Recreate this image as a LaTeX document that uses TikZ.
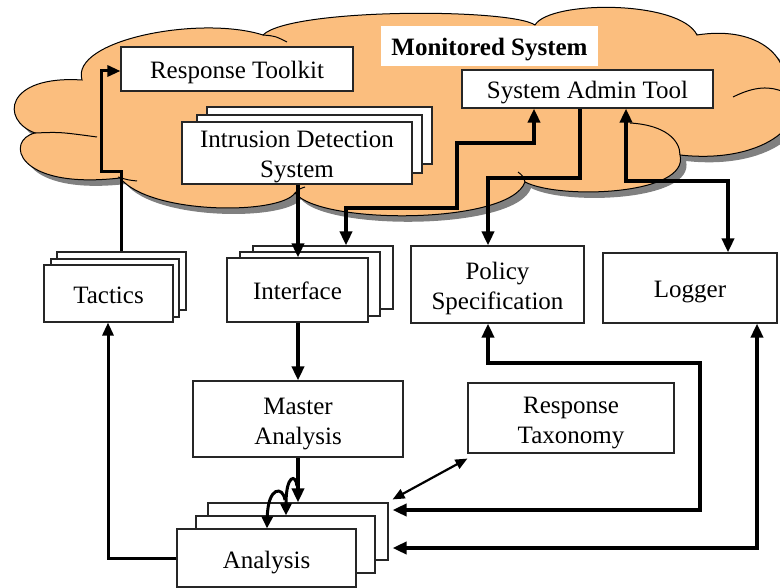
\documentclass[tikz,border=0pt]{standalone}
\usepackage{fontspec}
\setmainfont{Liberation Serif}
\usetikzlibrary{arrows.meta}
\definecolor{cloudfill}{RGB}{251,190,126}
\definecolor{shadowgray}{RGB}{128,128,128}
\newcommand{\topstrut}{\rule{0pt}{26pt}}
\newcommand{\botstrut}{\rule[-6pt]{0pt}{6pt}}
\begin{document}
\begin{tikzpicture}[x=1pt,y=-1pt,
  boxtext/.style={align=center, font=\fontsize{25}{30}\selectfont,
    execute at begin node=\topstrut, execute at end node=\botstrut},
  box/.style={boxtext, draw=black!85, line width=1.1pt, fill=white, inner sep=0pt},
  thickarr/.style={line width=3.6pt, -{Triangle[length=14pt,width=12pt]}},
  thickdbl/.style={line width=3.6pt, {Triangle[length=14pt,width=12pt]}-{Triangle[length=14pt,width=12pt]}},
  medarr/.style={line width=3pt, -{Triangle[length=13pt,width=11pt]}},
  curlarr/.style={line width=3pt, -{Triangle[length=12pt,width=11pt]}},
  thindbl/.style={line width=2.2pt, {Triangle[length=12pt,width=10pt]}-{Triangle[length=12pt,width=10pt]}},
  cloudline/.style={draw=black, line width=1pt}]
\useasboundingbox (0,0) rectangle (780,588);
\def\cloudpath{(82,80) .. controls (70,40) and (200,15) .. (263,35)
  .. controls (290,8) and (510,8) .. (535,25)
  .. controls (550,0) and (680,0) .. (697,35)
  .. controls (760,25) and (795,60) .. (782,95)
  .. controls (815,115) and (770,165) .. (680,155)
  .. controls (690,195) and (560,200) .. (525,182)
  .. controls (510,225) and (320,225) .. (295,193)
  .. controls (280,215) and (150,215) .. (120,178)
  .. controls (15,190) and (5,140) .. (35,133)
  .. controls (0,120) and (5,75) .. (82,80) -- cycle}
\begin{scope}
  \clip (0,0) rectangle (780,588);
  \fill[shadowgray,shift={(6,6)}] \cloudpath;
  \fill[cloudfill] \cloudpath;
  \draw[cloudline] \cloudpath;
  \draw[cloudline] (263,35) .. controls (275,36) .. (287,42);
  \draw[cloudline] (733,97) .. controls (755,86) and (770,86) .. (784,92);
  \draw[cloudline] (630,123) .. controls (665,125) and (680,140) .. (680,155);
  \draw[cloudline] (137,181) .. controls (128,180) .. (118,177);
  \draw[cloudline] (35,133) .. controls (60,132) .. (97,137);
  \draw[cloudline] (525,182) .. controls (523,176) .. (518,172);
  \draw[cloudline] (295,193) .. controls (299,189) .. (305,187);
\end{scope}
% title
\node[boxtext, fill=white, inner sep=0pt, minimum width=217pt, minimum height=40pt,
  font=\fontsize{25}{30}\selectfont\bfseries] (title) at (489.5,46) {Monitored System};
% boxes in cloud
\node[box, minimum width=232pt, minimum height=44pt] (rt) at (237,69) {Response Toolkit};
\node[box, minimum width=251pt, minimum height=38pt] (sat) at (587.5,89) {System Admin Tool};
\node[box, minimum width=225pt, minimum height=57pt] (ids3) at (319.5,135.5) {};
\node[box, minimum width=225pt, minimum height=58pt] (ids2) at (309.5,144) {};
\node[box, minimum width=230pt, minimum height=58pt] (ids) at (297,153) {\topstrut Intrusion Detection\\System\botstrut};
% tactics stack
\node[box, minimum width=129pt, minimum height=58pt] (tac3) at (121.5,281) {};
\node[box, minimum width=128pt, minimum height=58pt] (tac2) at (115,288) {};
\node[box, minimum width=129pt, minimum height=57pt] (tac) at (108.5,293.5) {Tactics};
% interface stack
\node[box, minimum width=140pt, minimum height=63pt] (iface3) at (323,277.5) {};
\node[box, minimum width=140pt, minimum height=64pt] (iface2) at (310,284) {};
\node[box, minimum width=141pt, minimum height=64pt] (iface) at (297.5,290) {Interface};
% others
\node[box, minimum width=173pt, minimum height=77pt] (pol) at (497.5,284.5) {\topstrut Policy\\Specification\botstrut};
\node[box, minimum width=174pt, minimum height=70pt] (log) at (690,288) {Logger};
\node[box, minimum width=210pt, minimum height=76pt] (mas) at (298,419) {\topstrut Master\\Analysis\botstrut};
\node[box, minimum width=206pt, minimum height=70pt] (tax) at (571,418) {\topstrut Response\\Taxonomy\botstrut};
% analysis stack
\node[box, minimum width=180pt, minimum height=57pt] (ana3) at (298,531.5) {};
\node[box, minimum width=179pt, minimum height=57pt] (ana2) at (285.5,544.5) {};
\node[box, minimum width=179pt, minimum height=58pt] (ana) at (266.5,558) {Analysis};
\coordinate (anaR) at ([xshift=4pt]ana3.east);
% connectors
\draw[medarr] (tac3.north -| 121,0) -- (121,172) -- (101,172) -- (101,71) -- (rt.west |- 0,71);
\draw[thickarr] (ids.south -| 298,0) -- (iface.north -| 298,0);
\draw[thickdbl] (iface3.north -| 346,0) -- (346,208) -- (457,208) -- (457,143) -- (534,143) -- (sat.south -| 534,0);
\draw[thickarr] (sat.south -| 580,0) -- (580,178) -- (488,178) -- (pol.north -| 488,0);
\draw[thickdbl] (sat.south -| 626,0) -- (626,181) -- (728,181) -- (log.north -| 728,0);
\draw[thickarr] (iface.south -| 298,0) -- (mas.north -| 298,0);
\draw[thickarr] (mas.south -| 298,0) -- (ana3.north -| 298,0);
\draw[curlarr] (297,486) .. controls (296,474) and (286,474) .. (ana2.north -| 286,0);
\draw[curlarr] (285,500) .. controls (283,486) and (268,486) .. (ana.north -| 267,0);
\draw[thindbl] ([shift={(0,5)}]tax.south west) -- ([shift={(4,-3)}]ana3.north east);
\draw[thickdbl] (pol.south -| 488,0) -- (488,363) -- (700,363) -- (700,510) -- (anaR |- 0,510);
\draw[thickdbl] (log.south -| 757,0) -- (757,548) -- (anaR |- 0,548);
\draw[medarr] (ana.west) -- (108,558) -- (tac.south -| 108,0);
\end{tikzpicture}
\end{document}
